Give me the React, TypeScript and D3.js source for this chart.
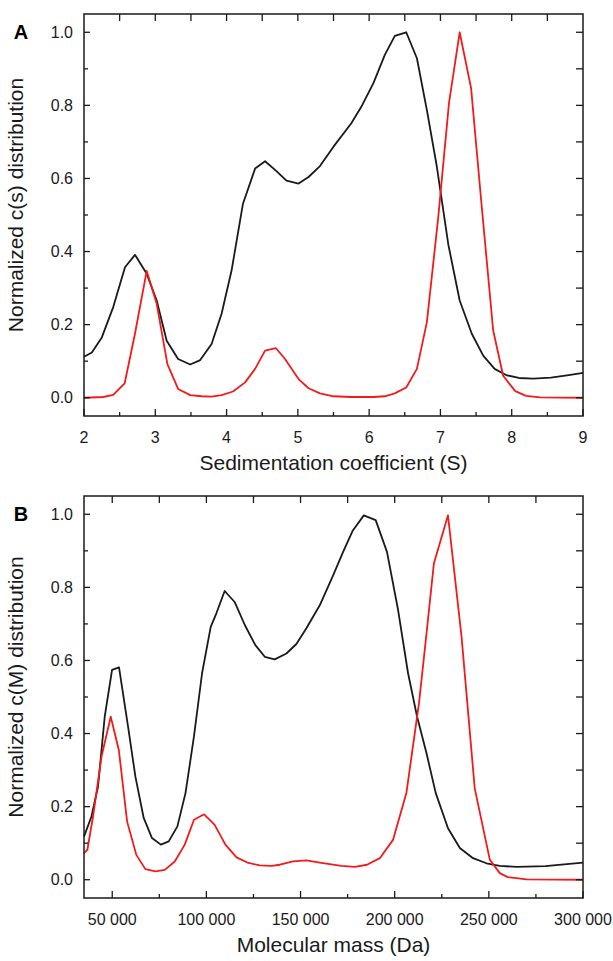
import React from 'react';
import * as d3 from 'd3';

// Panel A: c(s) distributions
const sBlack = [2.0, 2.11, 2.25, 2.41, 2.575, 2.715, 2.88, 3.02, 3.16, 3.32, 3.49, 3.63, 3.79, 3.93, 4.07, 4.23, 4.4, 4.54, 4.7, 4.84, 5.01, 5.15, 5.31, 5.5, 5.75, 5.89, 6.06, 6.22, 6.36, 6.52, 6.67, 6.81, 6.95, 7.11, 7.27, 7.44, 7.6, 7.76, 7.92, 8.1, 8.3, 8.55, 8.8, 9.0];
const csBlack = [0.112, 0.124, 0.165, 0.248, 0.357, 0.391, 0.339, 0.266, 0.156, 0.106, 0.091, 0.103, 0.147, 0.23, 0.348, 0.531, 0.627, 0.647, 0.62, 0.594, 0.586, 0.604, 0.634, 0.687, 0.751, 0.796, 0.861, 0.938, 0.99, 1.0, 0.929, 0.787, 0.632, 0.42, 0.266, 0.175, 0.115, 0.079, 0.062, 0.054, 0.052, 0.055, 0.062, 0.068];
const sRed = [2.0, 2.27, 2.41, 2.57, 2.715, 2.88, 3.02, 3.17, 3.32, 3.49, 3.65, 3.79, 3.93, 4.09, 4.26, 4.4, 4.54, 4.69, 4.82, 5.01, 5.15, 5.31, 5.5, 5.75, 6.06, 6.22, 6.36, 6.52, 6.67, 6.81, 6.97, 7.12, 7.27, 7.43, 7.58, 7.74, 7.88, 8.05, 8.2, 8.4, 9.0];
const csRed = [0.0, 0.002, 0.008, 0.039, 0.175, 0.347, 0.257, 0.092, 0.024, 0.007, 0.004, 0.003, 0.007, 0.017, 0.042, 0.079, 0.129, 0.136, 0.106, 0.051, 0.026, 0.012, 0.004, 0.002, 0.002, 0.004, 0.012, 0.028, 0.079, 0.207, 0.495, 0.806, 1.0, 0.847, 0.522, 0.184, 0.06, 0.018, 0.005, 0.001, 0.0];

// Panel B: c(M) distributions
const mBlack = [35000, 38950, 42460, 46000, 49900, 53600, 58400, 62300, 66700, 71100, 75800, 80000, 84600, 88900, 93400, 97700, 102300, 105300, 109700, 115000, 120400, 126000, 131000, 136300, 142500, 147800, 153100, 160200, 167300, 172600, 177600, 183600, 189900, 195900, 201800, 207100, 211900, 216900, 221800, 228300, 234600, 241600, 248700, 255800, 265000, 280000, 300000];
const cmBlack = [0.118, 0.173, 0.255, 0.446, 0.574, 0.581, 0.419, 0.282, 0.169, 0.114, 0.096, 0.105, 0.146, 0.237, 0.392, 0.565, 0.692, 0.729, 0.79, 0.76, 0.697, 0.642, 0.61, 0.603, 0.619, 0.645, 0.688, 0.751, 0.833, 0.897, 0.954, 0.997, 0.984, 0.897, 0.738, 0.565, 0.446, 0.346, 0.237, 0.141, 0.087, 0.059, 0.045, 0.038, 0.035, 0.037, 0.047];
const mRed = [35000, 36800, 39800, 44300, 49200, 53500, 57900, 62800, 67600, 72900, 77900, 83200, 88500, 93400, 98800, 104400, 110100, 116000, 121800, 128300, 134600, 139000, 146000, 153100, 160200, 171700, 178800, 185300, 192100, 199100, 206200, 212900, 216900, 220800, 228300, 235500, 242500, 250500, 255800, 260000, 270000, 300000];
const cmRed = [0.073, 0.082, 0.173, 0.337, 0.446, 0.355, 0.159, 0.068, 0.029, 0.023, 0.027, 0.05, 0.096, 0.164, 0.179, 0.15, 0.096, 0.061, 0.047, 0.039, 0.038, 0.041, 0.05, 0.053, 0.047, 0.038, 0.035, 0.041, 0.059, 0.109, 0.237, 0.483, 0.674, 0.865, 0.997, 0.665, 0.25, 0.055, 0.018, 0.007, 0.001, 0.0];

const yTicks = [0, 0.2, 0.4, 0.6, 0.8, 1.0];
const sTicks = [2, 3, 4, 5, 6, 7, 8, 9];
const mTicks = [50000, 100000, 150000, 200000, 250000, 300000];

const W = 613;
const H = 961;
const LEFT = 84;
const RIGHT = 583;
const FONT = 'Liberation Sans, Arial, Helvetica, sans-serif';
const INK = '#1a1a1a';
const RED = '#f21b1b';

type Series = { xs: number[]; ys: number[]; color: string };

type PanelProps = {
  top: number;
  bottom: number;
  letter: string;
  xDomain: [number, number];
  xMajor: number[];
  xMinor: number[];
  xTop: number[];
  xFormat: (v: number) => string;
  xTitle: string;
  yTitle: string;
  series: Series[];
};

function Panel({ top, bottom, letter, xDomain, xMajor, xMinor, xTop, xFormat, xTitle, yTitle, series }: PanelProps) {
  const x = d3.scaleLinear().domain(xDomain).range([LEFT, RIGHT]);
  const y = d3.scaleLinear().domain([-0.05, 1.05]).range([bottom, top]);

  const line = d3.line<[number, number]>()
    .x(d => x(d[0]))
    .y(d => y(d[1]));

  const yMinor = d3.range(0.1, 1, 0.2);
  const yRight = d3.range(0, 1.01, 0.1);
  const fmtY = d3.format('.1f');

  return (
    <g>
      {series.map((s, i) => (
        <path
          key={i}
          d={line(s.xs.map((v, j) => [v, s.ys[j]] as [number, number])) || ''}
          fill="none"
          stroke={s.color}
          strokeWidth={1.8}
          strokeLinejoin="round"
        />
      ))}

      {/* frame */}
      <rect x={LEFT} y={top} width={RIGHT - LEFT} height={bottom - top} fill="none" stroke={INK} strokeWidth={1.5} />

      {/* bottom ticks */}
      {xMajor.map(v => (
        <line key={'bM' + v} x1={x(v)} x2={x(v)} y1={bottom} y2={bottom - 7} stroke={INK} strokeWidth={1.3} />
      ))}
      {xMinor.map(v => (
        <line key={'bm' + v} x1={x(v)} x2={x(v)} y1={bottom} y2={bottom - 4} stroke={INK} strokeWidth={1.3} />
      ))}
      {/* top ticks */}
      {xTop.map(v => (
        <line key={'t' + v} x1={x(v)} x2={x(v)} y1={top} y2={top + 7} stroke={INK} strokeWidth={1.3} />
      ))}
      {/* left ticks */}
      {yTicks.map(v => (
        <line key={'lM' + v} x1={LEFT} x2={LEFT + 6} y1={y(v)} y2={y(v)} stroke={INK} strokeWidth={1.3} />
      ))}
      {yMinor.map(v => (
        <line key={'lm' + v} x1={LEFT} x2={LEFT + 4} y1={y(v)} y2={y(v)} stroke={INK} strokeWidth={1.3} />
      ))}
      {/* right ticks */}
      {yRight.map(v => (
        <line key={'r' + v} x1={RIGHT} x2={RIGHT - 7} y1={y(v)} y2={y(v)} stroke={INK} strokeWidth={1.3} />
      ))}

      {/* tick labels */}
      {yTicks.map(v => (
        <text key={'yl' + v} x={LEFT - 11} y={y(v)} dy="0.35em" textAnchor="end" fontSize={16} fill={INK} fontFamily={FONT}>
          {fmtY(v)}
        </text>
      ))}
      {xMajor.map(v => (
        <text key={'xl' + v} x={x(v)} y={bottom + 27} textAnchor="middle" fontSize={16} fill={INK} fontFamily={FONT}>
          {xFormat(v)}
        </text>
      ))}

      {/* titles */}
      <text x={(LEFT + RIGHT) / 2} y={bottom + 54} textAnchor="middle" fontSize={21} fill={INK} fontFamily={FONT}>
        {xTitle}
      </text>
      <text
        transform={`translate(23,${(y(0) + y(1)) / 2 - 10}) rotate(-90)`}
        textAnchor="middle"
        fontSize={21}
        fill={INK}
        fontFamily={FONT}
      >
        {yTitle}
      </text>
      <text x={21} y={y(1) + 7} textAnchor="middle" fontSize={20} fontWeight="bold" fill="#000" fontFamily={FONT}>
        {letter}
      </text>
    </g>
  );
}

export default function App() {
  const fmtMass = (v: number) => d3.format(',')(v).replace(/,/g, ' ');

  return (
    <svg width={W} height={H} viewBox={`0 0 ${W} ${H}`} style={{ position: 'absolute', left: 0, top: 0, background: '#fff' }}>
      <rect width={W} height={H} fill="#fff" />
      <Panel
        top={14}
        bottom={416}
        letter="A"
        xDomain={[2, 9]}
        xMajor={sTicks}
        xMinor={d3.range(2.5, 9, 1)}
        xTop={d3.range(2.5, 9, 0.5)}
        xFormat={v => String(v)}
        xTitle="Sedimentation coefficient (S)"
        yTitle="Normalized c(s) distribution"
        series={[
          { xs: sBlack, ys: csBlack, color: INK },
          { xs: sRed, ys: csRed, color: RED },
        ]}
      />
      <Panel
        top={496}
        bottom={898}
        letter="B"
        xDomain={[35000, 300000]}
        xMajor={mTicks}
        xMinor={d3.range(75000, 300000, 50000)}
        xTop={d3.range(50000, 300000, 25000)}
        xFormat={fmtMass}
        xTitle="Molecular mass (Da)"
        yTitle="Normalized c(M) distribution"
        series={[
          { xs: mBlack, ys: cmBlack, color: INK },
          { xs: mRed, ys: cmRed, color: RED },
        ]}
      />
    </svg>
  );
}
